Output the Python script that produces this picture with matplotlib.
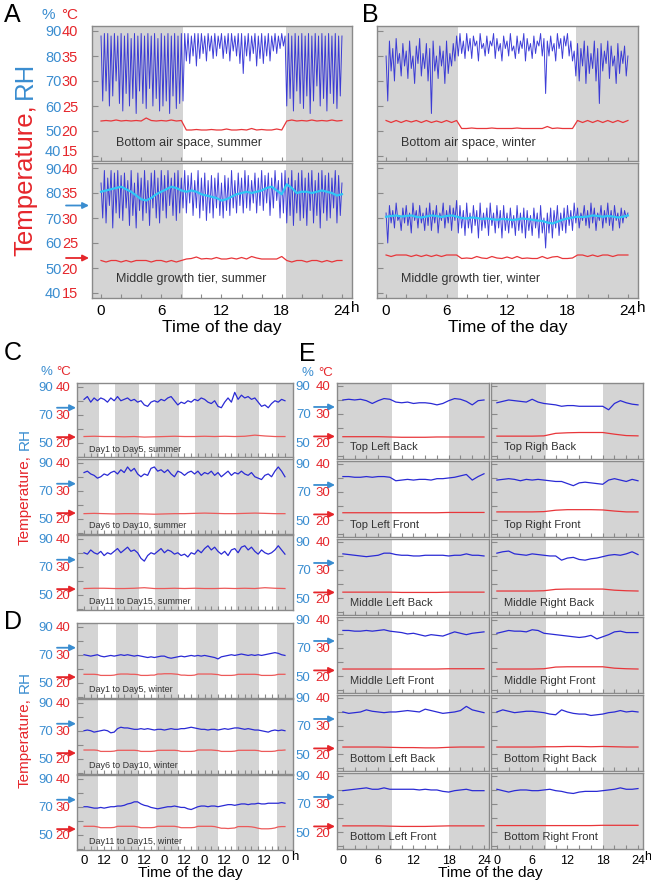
import numpy as np
import matplotlib
matplotlib.use('Agg')
import matplotlib.pyplot as plt

plt.rcParams['font.family'] = ['Liberation Sans', 'DejaVu Sans']

# light period (hours) of each data set, the rest of the day is shaded
light_a = (8.2, 18.4)
light_b = (7.1, 18.85)
light_c = (8.7, 18.5)
light_d = (8.2, 19.0)
light_e = (8.3, 18.0)

arrow_rh = 75
arrow_temp = 22

# ---- A: summer, one day, 10 min readings ----
rh_a_air = [
    88, 62, 89, 66, 89, 60, 88, 64, 89, 70, 88, 61,
    89, 58, 88, 65, 89, 60, 87, 63, 89, 57, 88, 66,
    89, 61, 88, 59, 89, 67, 88, 60, 89, 63, 87, 58,
    89, 60, 88, 62, 89, 57, 88, 64, 89, 59, 88, 61,
    89, 62, 89, 78, 89, 77, 88, 80, 89, 76, 89, 79,
    89, 81, 88, 78, 89, 82, 88, 79, 89, 80, 88, 83,
    89, 79, 88, 81, 89, 78, 89, 82, 88, 80, 89, 77,
    89, 73, 88, 80, 89, 78, 88, 81, 89, 76, 88, 79,
    89, 77, 88, 80, 89, 78, 88, 82, 89, 81, 88, 83,
    89, 84, 88, 60, 89, 63, 88, 58, 89, 66, 88, 61,
    89, 59, 88, 64, 89, 57, 88, 62, 89, 68, 88, 60,
    89, 63, 88, 58, 89, 65, 88, 61, 89, 59, 88, 64,
    88]
temp_a_air = [
    22.0, 22.1, 22.0, 22.2, 22.0, 22.1, 22.0, 22.1, 22.0, 22.6, 22.1, 22.0,
    22.1, 22.0, 22.2, 22.0, 22.1,
    20.2, 20.2, 20.3, 20.2, 20.2, 20.3, 20.2, 20.2, 20.4, 20.2, 20.2, 20.3,
    20.2, 20.5, 20.2, 20.3, 20.2, 20.2, 20.4, 20.2,
    22.0, 22.2, 22.0, 22.1, 22.0, 22.2, 22.0, 22.1, 22.0, 22.2, 22.0, 22.1]
rh_a_tier = [
    84, 70, 89, 68, 86, 75, 89, 66, 88, 72, 89, 70,
    87, 69, 88, 74, 85, 67, 89, 71, 84, 66, 88, 73,
    86, 69, 89, 72, 85, 67, 88, 74, 89, 70, 86, 68,
    89, 73, 87, 70, 89, 75, 86, 71, 88, 69, 89, 72,
    86, 74, 89, 72, 87, 76, 88, 71, 85, 74, 89, 70,
    86, 73, 88, 69, 85, 72, 87, 70, 86, 74, 88, 71,
    84, 70, 87, 73, 86, 71, 89, 74, 85, 72, 88, 75,
    86, 72, 89, 74, 87, 73, 85, 76, 88, 72, 86, 75,
    89, 73, 87, 76, 88, 71, 86, 74, 89, 77, 85, 70,
    88, 72, 89, 68, 86, 71, 89, 67, 85, 72, 88, 69,
    89, 70, 86, 67, 88, 73, 89, 68, 85, 71, 88, 66,
    89, 72, 87, 69, 88, 70, 86, 74, 89, 68, 87, 71,
    84]
rh_a_tier_avg = [
    80.5, 81.0, 81.5, 82.0, 82.5, 81.5, 80.5, 79.0, 77.5, 77.0, 78.0, 79.5, 80.5,
    81.5, 82.5, 82.0, 81.0, 80.5, 81.0, 80.5, 79.5, 79.0, 78.5, 78.0, 77.0,
    77.5, 78.5, 79.5, 80.0, 80.5, 80.0, 80.5, 81.0, 82.0, 82.5, 81.0, 79.5,
    83.5, 82.0, 80.0, 80.5, 80.5, 80.0, 80.5, 81.0, 80.5, 80.0, 79.0, 79.5]
temp_a_tier = [
    21.5, 21.2, 21.5, 21.5, 21.2, 21.5, 21.2, 21.5, 21.5, 21.5, 21.2, 21.5,
    21.5, 21.2, 21.5, 21.2, 21.5,
    21.8, 21.9, 22.2, 21.8, 21.9, 21.8, 22.1, 21.8, 21.8, 22.0, 21.8, 22.1,
    21.8, 22.3, 22.0, 21.8, 21.8, 21.8, 21.8, 22.3,
    21.5, 21.2, 21.5, 21.5, 21.2, 21.5, 21.5, 21.2, 21.5, 21.2, 21.5, 21.5]

# ---- B: winter, one day ----
rh_b_air = [
    80, 62, 86, 74, 83, 70, 87, 77, 81, 72, 85, 76,
    82, 71, 86, 75, 80, 69, 84, 77, 87, 72, 81, 75,
    85, 70, 83, 57, 86, 74, 80, 71, 84, 76, 82, 69,
    86, 73, 81, 76, 85, 78, 88, 80, 89, 81, 86, 79,
    89, 82, 87, 79, 88, 84, 86, 78, 89, 83, 85, 80,
    88, 81, 86, 84, 89, 79, 87, 82, 85, 78, 88, 83,
    86, 80, 89, 82, 84, 79, 88, 81, 86, 83, 89, 78,
    87, 82, 85, 79, 88, 81, 86, 84, 89, 80, 87, 65,
    86, 80, 88, 82, 85, 78, 89, 83, 87, 79, 88, 84,
    89, 80, 86, 78, 82, 72, 85, 70, 83, 76, 86, 69,
    84, 73, 81, 75, 86, 70, 83, 61, 85, 74, 82, 77,
    86, 71, 84, 76, 80, 69, 85, 73, 82, 77, 84, 72,
    80]
temp_b_air = [
    22.1, 21.7, 22.1, 21.7, 22.1, 21.8, 22.1, 21.7, 22.1, 21.7, 22.0, 21.7,
    22.1, 21.7, 22.1,
    20.5, 20.5, 20.6, 20.5, 20.5, 20.5, 20.6, 20.5, 20.5, 20.5, 20.5, 20.6,
    20.5, 20.5, 20.5, 20.5, 20.5, 20.9, 20.5, 20.6, 20.5, 20.5, 20.5,
    22.1, 21.7, 22.1, 21.7, 22.1, 21.7, 22.1, 21.7, 22.1, 21.7, 22.1]
rh_b_tier = [
    72, 60, 75, 68, 73, 66, 76, 69, 71, 65, 74, 68,
    75, 67, 72, 64, 76, 69, 73, 66, 75, 68, 72, 65,
    74, 67, 76, 65, 73, 68, 75, 64, 72, 69, 76, 66,
    73, 68, 75, 65, 74, 69, 77, 64, 75, 66, 73, 63,
    76, 66, 72, 64, 75, 67, 73, 62, 76, 65, 72, 66,
    74, 63, 76, 67, 72, 64, 75, 66, 73, 62, 75, 65,
    72, 64, 74, 66, 71, 63, 75, 65, 72, 64, 74, 62,
    73, 65, 71, 63, 74, 66, 72, 62, 75, 64, 70, 58,
    72, 64, 74, 62, 73, 66, 75, 63, 72, 65, 74, 64,
    75, 67, 73, 65, 76, 68, 74, 66, 72, 69, 75, 67,
    73, 66, 76, 68, 74, 65, 72, 69, 75, 66, 73, 68,
    76, 67, 73, 65, 75, 69, 72, 66, 74, 68, 73, 70,
    72]
rh_b_tier_avg = [
    70.5, 70.8, 71.0, 70.6, 70.8, 71.0, 70.5, 70.2, 70.6, 71.0, 70.8, 70.4,
    70.8, 71.0, 70.6, 70.0, 69.8, 70.2, 70.0, 69.6, 69.8, 69.5, 69.3, 69.6,
    69.5, 69.2, 69.4, 69.8, 69.6, 69.3, 69.0, 68.8, 68.2, 67.8, 68.5, 69.3,
    69.8, 70.2, 70.5, 70.4, 70.6, 71.0, 70.8, 70.5, 70.8, 70.6, 70.2, 70.5,
    71.0]
temp_b_tier = [
    22.6, 22.3, 22.6, 22.6, 22.6, 22.3, 22.6, 22.3, 22.6, 22.3, 22.6, 22.3,
    22.6, 22.6, 22.6,
    21.9, 22.0, 21.9, 22.3, 22.0, 21.9, 22.3, 22.0, 21.9, 22.2, 21.9, 22.3,
    21.9, 22.0, 21.9, 21.9, 22.3, 21.9, 22.2, 22.3, 21.9, 21.9, 22.0,
    22.6, 22.6, 22.3, 22.6, 22.3, 22.6, 22.6, 22.3, 22.6, 22.6, 22.6]

# ---- C: summer, 15 days in three 5-day blocks (2 h RH, 6 h temperature) ----
rh_c1 = [81, 83, 79, 82, 80, 82, 81, 79, 82, 80, 83, 80,
         81, 82, 80, 81, 79, 80, 77, 76, 79, 80, 79, 81,
         80, 82, 83, 80, 77, 79, 78, 80, 79, 81, 80, 82,
         81, 79, 78, 80, 76, 75, 79, 82, 79, 86, 81, 84,
         82, 83, 81, 82, 79, 76, 77, 75, 78, 80, 79, 81, 80]
temp_c1 = [22.2, 22.3, 22.2, 22.2, 22.1, 22.2, 22.0, 22.1, 22.2, 22.3, 22.2,
           22.2, 22.3, 22.2, 22.3, 22.2, 22.3, 22.7, 22.4, 22.2, 22.2]
rh_c2 = [83, 84, 82, 81, 79, 80, 82, 81, 83, 84, 82, 85,
         83, 87, 84, 86, 82, 80, 82, 81, 86, 87, 84, 85,
         83, 85, 82, 80, 84, 83, 81, 83, 84, 82, 84, 81,
         83, 82, 84, 81, 83, 80, 82, 84, 81, 83, 82, 84,
         82, 81, 83, 80, 79, 78, 81, 82, 80, 84, 87, 84, 80]
temp_c2 = [21.8, 21.9, 21.8, 21.7, 21.8, 21.8, 21.7, 21.6, 21.7, 21.8, 21.8,
           21.9, 22.0, 21.9, 21.8, 21.8, 21.9, 22.0, 21.9, 21.8, 21.8]
rh_c3 = [80, 79, 82, 80, 79, 81, 78, 80, 79, 81, 83, 80,
         82, 84, 81, 82, 80, 76, 74, 78, 80, 79, 81, 83,
         80, 82, 81, 79, 80, 78, 79, 77, 80, 79, 82, 80,
         83, 85, 82, 84, 81, 79, 81, 78, 82, 83, 80, 84,
         85, 82, 84, 81, 79, 82, 80, 79, 80, 82, 85, 82, 79]
temp_c3 = [22.2, 22.3, 22.3, 22.2, 22.2, 22.3, 22.5, 22.2, 22.2, 22.3, 22.2,
           22.3, 22.2, 22.2, 22.3, 22.2, 22.3, 22.2, 22.5, 22.3, 22.2]

# ---- D: winter, 15 days in three 5-day blocks (2 h readings) ----
rh_d1 = [70, 69.5, 69, 69.5, 70, 69, 68.5, 69, 69.5, 69, 69.5, 70,
         69.5, 70, 69.5, 69, 69.5, 69, 68.5, 68, 68.5, 68, 68.5, 69,
         69, 68, 67.5, 68, 68.5, 69, 68.5, 69, 69.5, 69, 69.5, 69,
         69.5, 69, 68.5, 68, 67, 68.5, 69, 69.5, 70, 69.5, 70, 70.5,
         70, 69.5, 70, 69.5, 70, 69.5, 70, 70.5, 71, 71.5, 71, 70, 69.5]
temp_d1 = [23.0, 23.0, 23.0, 23.0, 22.9, 22.6, 22.6, 22.6, 22.6, 22.7, 23.0, 23.1,
           23.1, 23.1, 23.0, 23.0, 22.9, 22.6, 22.6, 22.6, 22.7, 22.7, 23.1, 23.1,
           23.2, 23.2, 23.2, 23.1, 23.0, 22.7, 22.7, 22.6, 22.6, 22.7, 23.1, 23.1,
           23.1, 23.1, 23.1, 23.0, 22.9, 22.6, 22.6, 22.6, 22.6, 22.7, 23.0, 23.0,
           23.0, 23.0, 23.0, 23.0, 22.9, 22.6, 22.6, 22.6, 22.6, 22.7, 23.0, 23.0, 23.0]
rh_d2 = [70, 70.5, 70, 69, 69.5, 70, 70.5, 70, 68.5, 69, 71.5, 72.5,
         72, 72, 71.5, 71, 71, 71.5, 71, 71.5, 71, 70.5, 71, 71,
         70.5, 71, 71.5, 71, 71, 71.5, 71.5, 72, 72.5, 72, 71.5, 71,
         71, 70.5, 71, 71, 70.5, 71, 71.5, 71, 71.5, 72, 72, 71.5,
         71, 71.5, 71, 70.5, 70.5, 70, 69.5, 69, 70, 70.5, 70, 70.5, 70]
temp_d2 = [23.1, 23.1, 23.1, 23.1, 23.0, 22.6, 22.6, 22.6, 22.6, 22.7, 23.0, 23.0,
           23.0, 23.0, 23.0, 23.0, 22.9, 22.6, 22.6, 22.6, 22.6, 22.7, 23.0, 23.0,
           23.0, 23.0, 23.0, 23.0, 22.9, 22.6, 22.6, 22.6, 22.6, 22.7, 23.1, 23.1,
           23.1, 23.1, 23.1, 23.0, 22.9, 22.6, 22.6, 22.6, 22.6, 22.7, 23.0, 23.0,
           23.0, 23.0, 23.0, 23.0, 22.9, 22.6, 22.6, 22.6, 22.6, 22.7, 23.0, 23.0, 23.1]
rh_d3 = [70, 70, 69.5, 69, 69, 69.5, 69, 69.5, 70, 70, 70.5, 70.5,
         71, 72, 72.5, 73.5, 73.5, 72, 71, 70.5, 69.5, 69, 68.5, 69,
         69.5, 70, 70, 70.5, 70, 69.5, 69.5, 68.5, 68, 69, 70, 70.5,
         70.5, 70, 70.5, 70.5, 70, 70.5, 71, 71.5, 71.5, 71, 71.5, 72,
         72, 71.5, 72, 72, 72.5, 72, 72, 72.5, 72.5, 72.5, 72.5, 73, 72.5]
temp_d3 = [23.0, 23.0, 23.0, 23.0, 22.8, 22.5, 22.5, 22.5, 22.5, 22.6, 23.0, 23.0,
           23.0, 23.0, 23.0, 23.0, 22.8, 22.5, 22.5, 22.5, 22.5, 22.6, 23.0, 23.0,
           23.0, 23.0, 23.0, 23.0, 22.8, 22.5, 22.5, 22.5, 22.5, 22.6, 23.0, 23.0,
           23.0, 23.0, 23.0, 22.9, 22.6, 22.3, 22.3, 22.2, 22.3, 22.4, 22.9, 22.9,
           22.9, 22.9, 22.8, 22.6, 22.3, 22.1, 22.1, 22.1, 22.2, 22.4, 22.8, 22.9, 22.9]

# ---- E: twelve positions, one day (hourly RH, 2 h temperature) ----
rh_top_left_back = [80, 80.5, 80, 80.5, 79.5, 77.5, 79.5, 81, 80.5, 78.5, 78, 78.5, 77.5,
                    78, 78, 77.5, 76.5, 77.5, 79.5, 81, 80.5, 79, 76.5, 79.5, 80]
temp_top_left_back = [21.9, 21.9, 21.9, 21.9, 21.8, 21.7, 21.7, 21.7, 21.8, 21.8, 21.8, 21.8, 21.8]
rh_top_right_back = [78, 79, 80, 79.5, 79, 78.5, 80.5, 78.5, 77.5, 77, 76.5, 75.5, 76,
                     76, 75.5, 75.5, 75.5, 75.5, 75.5, 73, 77.5, 79.5, 78, 77, 76.5]
temp_top_right_back = [22.1, 22.1, 22.1, 22.1, 22.2, 23.1, 23.3, 23.4, 23.4, 23.4, 22.8, 22.3, 22.2]
rh_top_left_front = [81, 81, 80.5, 80.5, 81, 80.5, 81, 81, 80.5, 78, 78.5, 79, 78.5,
                     79, 79, 78.5, 79.5, 79.5, 80, 80.5, 81.5, 82.5, 78.5, 81, 83]
temp_top_left_front = [22.6, 22.6, 22.6, 22.6, 22.6, 22.6, 22.6, 22.6, 22.6, 22.7, 22.7, 22.7, 22.7]
rh_top_right_front = [78.5, 79, 79.5, 79, 78, 79, 78.5, 79, 78.5, 78, 77.5, 77.5, 76,
                      74.5, 76.5, 77, 76.5, 76, 75.5, 78.5, 79.5, 78.5, 77.5, 79, 78]
temp_top_right_front = [22.9, 22.9, 22.9, 22.9, 23.0, 23.5, 23.7, 23.7, 23.7, 23.6, 23.2, 22.9, 22.9]
rh_mid_left_back = [81.5, 81, 80.5, 80, 79.5, 80, 80.5, 82, 82, 81, 80.5, 80.5, 80,
                    80, 80.5, 80.5, 80.5, 80.5, 80, 80.5, 80.5, 81.5, 80.5, 80.5, 80]
temp_mid_left_back = [22.1, 22.1, 22.1, 22.1, 22.1, 22.0, 22.0, 22.0, 22.0, 22.1, 22.1, 22.1, 22.1]
rh_mid_right_back = [82, 83, 83.5, 81.5, 81, 80.5, 81.5, 81, 80.5, 80, 80, 77, 78.5,
                     79, 77.5, 77, 78, 78.5, 79.5, 80.5, 81, 80.5, 81.5, 83, 81]
temp_mid_right_back = [22.5, 22.5, 22.5, 22.5, 22.6, 23.1, 23.2, 23.2, 23.2, 23.2, 22.8, 22.6, 22.5]
rh_mid_left_front = [82.5, 82.5, 82, 82, 82.5, 82, 82.5, 83, 82, 81.5, 81, 80, 80.5,
                     79.5, 78.5, 79.5, 79, 78.5, 80, 81.5, 80.5, 79.5, 80.5, 81, 81.5]
temp_mid_left_front = [22.5, 22.5, 22.5, 22.5, 22.5, 22.5, 22.5, 22.5, 22.5, 22.6, 22.6, 22.6, 22.6]
rh_mid_right_front = [80.5, 81.5, 82.5, 82, 82, 81.5, 83, 82.5, 80.5, 80, 79.5, 79, 78.5,
                      78, 77.5, 78, 79, 76.5, 78, 79.5, 81.5, 82, 81, 81, 81]
temp_mid_right_front = [22.5, 22.5, 22.5, 22.5, 22.6, 23.2, 23.3, 23.3, 23.3, 23.3, 22.8, 22.6, 22.5]
rh_bot_left_back = [80, 79, 79.5, 80, 81.5, 80.5, 80, 79.5, 80, 80, 80.5, 81, 80.5,
                    80, 82, 81, 80, 79, 79.5, 80, 81, 84, 81.5, 80.5, 79.5]
temp_bot_left_back = [22.5, 22.5, 22.5, 22.5, 22.4, 22.3, 22.3, 22.2, 22.2, 22.4, 22.5, 22.5, 22.5]
rh_bot_right_back = [80, 81.5, 80.5, 79.5, 80, 80.5, 80.5, 80, 79.5, 78.5, 78, 81.5, 80,
                     79, 78.5, 78.5, 77.5, 78, 78.5, 79.5, 80, 81, 80, 80.5, 80]
temp_bot_right_back = [22.5, 22.5, 22.5, 22.5, 22.6, 22.6, 22.7, 22.7, 22.6, 22.7, 22.6, 22.5, 22.5]
rh_bot_left_front = [79.5, 80, 80.5, 81, 81.5, 80.5, 80.5, 81.5, 80.5, 80.5, 80.5, 80.5, 80.5,
                     80, 80.5, 80, 80, 79, 78.5, 79.5, 80, 80.5, 79.5, 79.5, 79.5]
temp_bot_left_front = [22.2, 22.2, 22.2, 22.2, 22.1, 22.0, 22.0, 22.0, 22.1, 22.2, 22.2, 22.2, 22.2]
rh_bot_right_front = [80.5, 79.5, 78.5, 79.5, 80, 80, 79.5, 79.5, 80, 80.5, 79.5, 79, 78,
                      77.5, 78.5, 79, 79, 79, 79.5, 80, 80.5, 81.5, 80.5, 80.5, 81]
temp_bot_right_front = [22.3, 22.3, 22.3, 22.3, 22.3, 22.3, 22.3, 22.3, 22.3, 22.4, 22.4, 22.4, 22.4]

e_names = [['Top Left Back', 'Top Righ Back'],
           ['Top Left Front', 'Top Right Front'],
           ['Middle Left Back', 'Middle Right Back'],
           ['Middle Left Front', 'Middle Right Front'],
           ['Bottom Left Back', 'Bottom Right Back'],
           ['Bottom Left Front', 'Bottom Right Front']]
e_rh = [[rh_top_left_back, rh_top_right_back],
        [rh_top_left_front, rh_top_right_front],
        [rh_mid_left_back, rh_mid_right_back],
        [rh_mid_left_front, rh_mid_right_front],
        [rh_bot_left_back, rh_bot_right_back],
        [rh_bot_left_front, rh_bot_right_front]]
e_temp = [[temp_top_left_back, temp_top_right_back],
          [temp_top_left_front, temp_top_right_front],
          [temp_mid_left_back, temp_mid_right_back],
          [temp_mid_left_front, temp_mid_right_front],
          [temp_bot_left_back, temp_bot_right_back],
          [temp_bot_left_front, temp_bot_right_front]]

# ---------------------------------------------------------------
W, H = 651, 882
fig = plt.figure(figsize=(W / 100, H / 100), dpi=100)

BLUE = '#2a2ad4'
CYAN = '#2fc6f5'
RED = '#e8363a'
LBLUE = '#3a8dd0'
LRED = '#e5262b'
GRAY = '#d4d4d4'
EDGE = '#8a8a8a'
TXT = '#333333'


def px_axes(x0, y0, x1, y1):
    return fig.add_axes([x0 / W, 1 - y1 / H, (x1 - x0) / W, (y1 - y0) / H])


def shade(ax, light, days, xlim):
    edges = [xlim[0]]
    for d in range(days):
        edges += [24 * d + light[0], 24 * d + light[1]]
    edges.append(xlim[1])
    for a, b in zip(edges[0::2], edges[1::2]):
        ax.axvspan(a, b, color=GRAY, lw=0, zorder=0)


def panel(box, xlim, ylim, light, days, xstep, labeled, pads, size):
    ax = px_axes(*box)
    ax.set_xlim(xlim)
    ax.set_ylim(ylim)
    shade(ax, light, days, xlim)
    ticks = [40, 50, 60, 70, 80, 90]
    ax.set_yticks(ticks)
    ax.set_yticklabels([str(v) if v in labeled else '' for v in ticks])
    ax.tick_params(axis='y', direction='in', length=4, color=EDGE,
                   labelcolor=LBLUE, labelsize=size, pad=pads[0])
    ax.set_xticks(np.arange(0, 24 * days + 0.1, xstep))
    ax.set_xticklabels([])
    ax.tick_params(axis='x', direction='in', length=3, color=EDGE)
    for s in ax.spines.values():
        s.set_color(EDGE)
        s.set_linewidth(1.0)
    # temperature scale: RH = 2 T + 10
    ax2 = ax.twinx()
    ax2.set_ylim((ylim[0] - 10) / 2, (ylim[1] - 10) / 2)
    ax2.yaxis.tick_left()
    ax2.set_yticks([(v - 10) / 2 for v in labeled])
    ax2.set_yticklabels([str((v - 10) // 2) for v in labeled])
    ax2.tick_params(axis='y', length=0, labelcolor=LRED, labelsize=size,
                    pad=pads[1])
    for s in ax2.spines.values():
        s.set_visible(False)
    return ax, ax2


def arrows(ax, ax2, x0, x1):
    for a, v, c in [(ax, arrow_rh, LBLUE), (ax2, arrow_temp, LRED)]:
        a.annotate('', xy=(x1, v), xytext=(x0, v),
                   xycoords=('figure pixels', 'data'),
                   textcoords=('figure pixels', 'data'),
                   arrowprops=dict(arrowstyle='-|>', color=c, lw=1.3,
                                   mutation_scale=9, shrinkA=0, shrinkB=0),
                   annotation_clip=False)


def hours(values, span):
    return np.linspace(0, span, len(values))


def ftext(x, y, s, **kw):
    fig.text(x / W, 1 - y / H, s, **kw)


def ylabel2(x, split, size):
    # two-colour rotated label, split point given in pixels from the top
    ftext(x, split + 3, 'Temperature,', fontsize=size, color=LRED,
          rotation=90, ha='center', va='top')
    ftext(x, split - 2, 'RH', fontsize=size, color=LBLUE, rotation=90,
          ha='center', va='bottom')


# ---- A and B ----
ab = [
    ('A', 92, 352, light_a, rh_a_air, temp_a_air, rh_a_tier, rh_a_tier_avg,
     temp_a_tier, 'Bottom air space, summer', 'Middle growth tier, summer'),
    ('B', 377, 638, light_b, rh_b_air, temp_b_air, rh_b_tier, rh_b_tier_avg,
     temp_b_tier, 'Bottom air space, winter', 'Middle growth tier, winter'),
]
for key, x0, x1, light, rh1, t1, rh2, avg2, t2, name1, name2 in ab:
    xlim = (-0.9, 25.0)
    labeled = [40, 50, 60, 70, 80, 90] if key == 'A' else []
    axes = []
    for y0, y1 in [(26, 161), (163, 298)]:
        axes.append(panel((x0, y0, x1, y1), xlim, (38, 92), light, 1, 2,
                          labeled, (22, 10), 10.5))
    (ax, ax2), (bx, bx2) = axes
    if key == 'A':
        # the lowest labels of the upper plot sit on their tick, so they
        # stay clear of the top labels of the lower plot
        ax.get_yticklabels()[0].set_verticalalignment('baseline')
        ax2.get_yticklabels()[0].set_verticalalignment('baseline')
    ax.plot(hours(rh1, 24), rh1, color=BLUE, lw=0.7, alpha=0.9)
    ax2.plot(hours(t1, 24), t1, color=RED, lw=0.9)
    bx.plot(hours(rh2, 24), rh2, color=BLUE, lw=0.7, alpha=0.9)
    bx.plot(hours(avg2, 24), avg2, color=CYAN, lw=1.6)
    bx2.plot(hours(t2, 24), t2, color=RED, lw=0.9)
    ax.text(1.5, 45.2, name1, fontsize=9, color=TXT, va='center')
    bx.text(1.5, 45.6, name2, fontsize=9, color=TXT, va='center')
    bx.set_xticks(range(0, 25, 2))
    bx.set_xticklabels([str(h) if h % 6 == 0 else '' for h in range(0, 25, 2)],
                       fontsize=11)
    bx.tick_params(axis='x', pad=4)
    if key == 'A':
        arrows(bx, bx2, 66, 89)
    ftext((x0 + x1) / 2, 327, 'Time of the day', fontsize=12.5,
          ha='center', va='center')
    ftext(x1 + 3, 308, 'h', fontsize=11, ha='center', va='center')

ftext(4, 3, 'A', fontsize=18, va='top')
ftext(362, 3, 'B', fontsize=18, va='top')
ftext(48, 15, '%', fontsize=11, color=LBLUE, ha='center', va='center')
ftext(70, 15, '°C', fontsize=11, color=LRED, ha='center', va='center')
ylabel2(25, 101, 18.5)

# ---- C and D ----
cd = [
    ('C', 383, 452, light_c, [(rh_c1, temp_c1, 'Day1 to Day5, summer'),
                              (rh_c2, temp_c2, 'Day6 to Day10, summer'),
                              (rh_c3, temp_c3, 'Day11 to Day15, summer')]),
    ('D', 623, 695, light_d, [(rh_d1, temp_d1, 'Day1 to Day5, winter'),
                              (rh_d2, temp_d2, 'Day6 to Day10, winter'),
                              (rh_d3, temp_d3, 'Day11 to Day15, winter')]),
]
for key, top, split, light, rows in cd:
    xlim = (-4.2, 124.8)
    for i, (rh, temp, name) in enumerate(rows):
        y0 = top + i * 76
        ax, ax2 = panel((77, y0, 293, y0 + 74.5), xlim, (39.4, 92.7), light, 5,
                        4, [50, 70, 90], (17, 5), 9.5)
        ax.plot(hours(rh, 120), rh, color=BLUE, lw=0.9)
        ax2.plot(hours(temp, 120), temp, color='#ec5a5a', lw=0.9)
        ax.text(3, 45, name, fontsize=6.5, color=TXT, va='center')
        arrows(ax, ax2, 57, 76)
        if key == 'D' and i == 2:
            ax.set_xticks(range(0, 121, 4))
            ax.set_xticklabels([('0' if h % 24 == 0 else '12') if h % 12 == 0
                                else '' for h in range(0, 121, 4)], fontsize=9.5)
            ax.tick_params(axis='x', pad=4)
    ylabel2(25, split, 11)

ftext(4, 341, 'C', fontsize=18, va='top')
ftext(4, 610, 'D', fontsize=18, va='top')
ftext(46, 372, '%', fontsize=9.5, color=LBLUE, ha='center', va='center')
ftext(64, 372, '°C', fontsize=9.5, color=LRED, ha='center', va='center')
ftext(295, 857, 'h', fontsize=9.5, ha='center', va='center')
ftext(190, 873, 'Time of the day', fontsize=11, ha='center', va='center')

# ---- E ----
for r in range(6):
    y0 = 383 + r * 78
    for c in range(2):
        x0 = 337 + c * 154
        labeled = [50, 70, 90] if c == 0 else []
        ax, ax2 = panel((x0, y0, x0 + 152, y0 + 76), (-1.0, 24.85),
                        (37.9, 92.1), light_e, 1, 2, labeled, (19, 5), 9.5)
        rh = e_rh[r][c]
        temp = e_temp[r][c]
        ax.plot(hours(rh, 24), rh, color=BLUE, lw=0.9)
        ax2.plot(hours(temp, 24), temp, color=RED, lw=0.9)
        ax.text(1.2, 46.5, e_names[r][c], fontsize=8, color=TXT, va='center')
        if c == 0:
            arrows(ax, ax2, 314, 335)
        if r == 5:
            ax.set_xticks(range(0, 25, 2))
            ax.set_xticklabels([str(h) if h % 6 == 0 else ''
                                for h in range(0, 25, 2)], fontsize=9)
            ax.tick_params(axis='x', pad=4)

ftext(299, 342, 'E', fontsize=18, va='top')
ftext(307, 373, '%', fontsize=9.5, color=LBLUE, ha='center', va='center')
ftext(326, 373, '°C', fontsize=9.5, color=LRED, ha='center', va='center')
ftext(648, 857, 'h', fontsize=9, ha='center', va='center')
ftext(490, 873, 'Time of the day', fontsize=11, ha='center', va='center')

fig.savefig('out.png', dpi=100)
